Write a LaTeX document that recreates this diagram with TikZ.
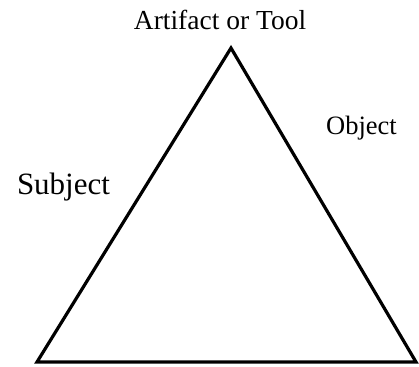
\documentclass[tikz,border=0pt]{standalone}
\usepackage{fontspec}
\setmainfont{Liberation Serif}
\begin{document}
\begin{tikzpicture}[x=1pt,y=-1pt,
  lbl/.style={inner sep=0pt, anchor=base, text=black}]
\useasboundingbox (0,0) rectangle (419,366);
\coordinate (top) at (231,48);
\coordinate (bl) at (37,362);
\coordinate (br) at (416,362);
\draw[line width=3.2pt, line join=miter] (top) -- (br) -- (bl) -- cycle;
\node[lbl, font=\fontsize{27.5}{32}\selectfont] (tool) at (220,30) {Artifact or Tool};
\node[lbl, font=\fontsize{26.5}{31}\selectfont] (obj) at (361.5,135) {Object};
\node[lbl, font=\fontsize{31}{36}\selectfont] (subj) at (63.5,194) {Subject};
\end{tikzpicture}
\end{document}
